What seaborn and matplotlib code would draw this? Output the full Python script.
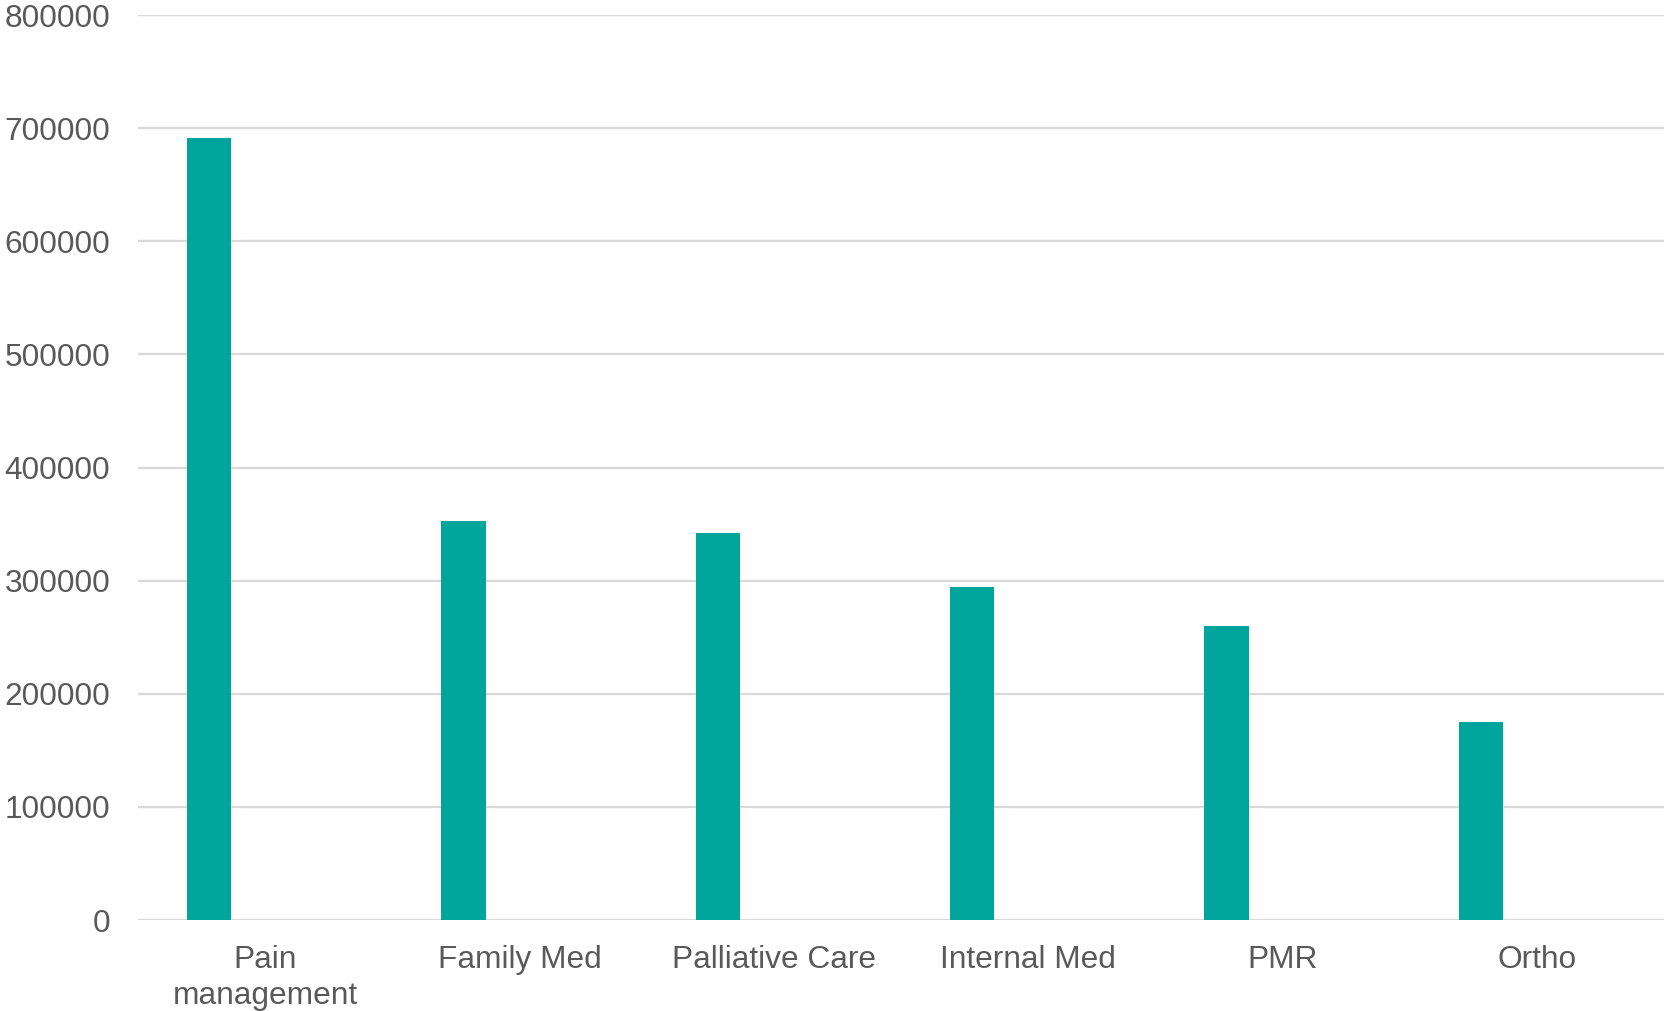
import matplotlib
matplotlib.use("Agg")
import matplotlib.pyplot as plt
import seaborn as sns
import numpy as np
import pandas as pd

# Data
specialties = ["Pain\nmanagement", "Family Med", "Palliative Care", "Internal Med", "PMR", "Ortho"]
values = [691000, 353000, 342000, 294000, 260000, 175000]
y_ticks = [0, 100000, 200000, 300000, 400000, 500000, 600000, 700000, 800000]

BAR_COLOR = "#00A59B"
GRID_COLOR = "#D9D9D9"
TEXT_COLOR = "#595959"

sns.set_theme(style="white")
plt.rcParams["font.family"] = ["Liberation Sans", "DejaVu Sans"]

# Bars sit in the left half of each category slot (first series of a pair)
idx = np.arange(len(specialties))
bar_offset = -0.22
df = pd.DataFrame({"pos": idx + bar_offset, "value": values})

fig = plt.figure(figsize=(16.64, 10.11), dpi=100)
ax = fig.add_axes([138 / 1664, 1 - 920 / 1011, 1 - 138 / 1664, (920 - 15) / 1011])

sns.barplot(data=df, x="pos", y="value", native_scale=True, width=0.175,
            color=BAR_COLOR, saturation=1, edgecolor="none", ax=ax, zorder=3)

ax.set_xlim(-0.5, len(specialties) - 0.5)
ax.set_ylim(0, 800000)
ax.set_yticks(y_ticks)
ax.set_yticklabels([str(v) for v in y_ticks])
ax.set_xticks(idx)
ax.set_xticklabels(specialties, linespacing=1.25)

ax.yaxis.grid(True, color=GRID_COLOR, linewidth=1.6, zorder=0)
ax.xaxis.grid(False)
for s in ax.spines.values():
    s.set_visible(False)

ax.tick_params(axis="y", length=0, pad=20, labelsize=22.8, labelcolor=TEXT_COLOR)
ax.tick_params(axis="x", length=0, pad=18, labelsize=22.8, labelcolor=TEXT_COLOR)
ax.set_xlabel("")
ax.set_ylabel("")

fig.savefig("out.png", dpi=100, facecolor="white")
